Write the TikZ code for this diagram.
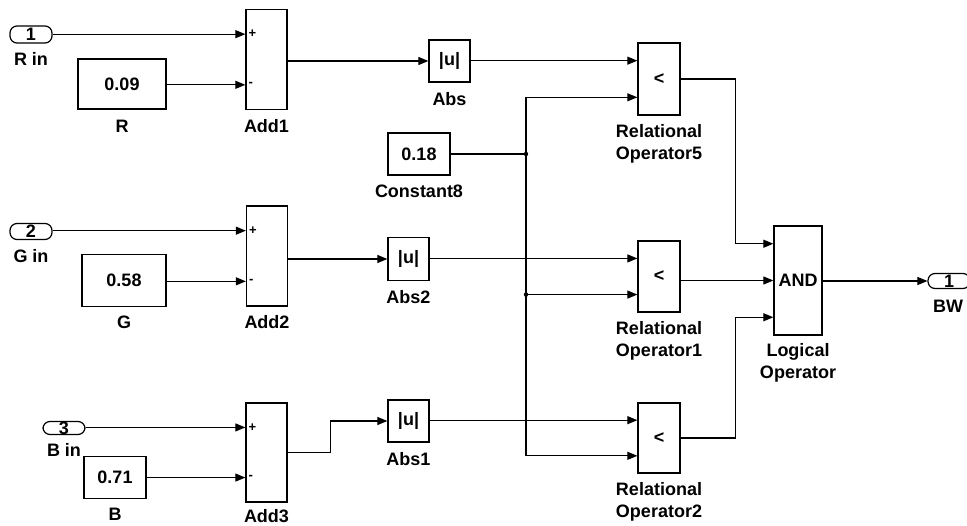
\documentclass[tikz,border=0pt]{standalone}
\usepackage{fontspec}
\setmainfont{Liberation Sans}
\usetikzlibrary{arrows.meta,calc}
\begin{document}
\begin{tikzpicture}[x=1pt,y=-1pt,
  blk/.style={draw, line width=1.3pt, inner sep=0pt, font=\bfseries\fontsize{18}{20}\selectfont},
  inport/.style={draw, rounded corners=7pt, line width=1.2pt, inner sep=0pt, minimum width=42pt, font=\bfseries\fontsize{18}{20}\selectfont},
  lbl/.style={inner sep=0pt, anchor=north, align=center, font=\bfseries\fontsize{18}{22}\selectfont},
  sgn/.style={inner sep=0pt, anchor=west, font=\bfseries\fontsize{13}{14}\selectfont},
  sig/.style={line width=1.1pt, -{Triangle[length=10pt,width=8pt]}},
  wire/.style={line width=1.1pt}]
\clip (0,0) rectangle (967,526);
\useasboundingbox (0,0) rectangle (967,526);

% ---- R branch
\node[inport, minimum height=17pt] (in1) at (31,34.5) {1};
\node[lbl] (in1l) at ([yshift=-9pt]in1.south) {R in};
\node[blk, minimum width=88pt, minimum height=50pt] (cR) at (122,84) {0.09};
\node[lbl] (cRl) at ([yshift=-10pt]cR.south) {R};
\node[blk, minimum width=41pt, minimum height=100pt] (add1) at (266.5,59.5) {};
\node[lbl] (add1l) at ([yshift=-9pt]add1.south) {Add1};
\coordinate (a1p) at ($(add1.north west)!0.25!(add1.south west)$);
\coordinate (a1m) at ($(add1.north west)!0.75!(add1.south west)$);
\node[sgn] (a1ps) at ([xshift=3pt]a1p) {+};
\node[sgn] (a1ms) at ([xshift=3pt]a1m) {-};
\node[blk, minimum width=41pt, minimum height=42pt] (abs) at (449.5,61) {|u|};
\node[lbl] (absl) at ([yshift=-10pt]abs.south) {Abs};

% ---- G branch
\node[inport, minimum height=16pt] (in2) at (31,231.5) {2};
\node[lbl] (in2l) at ([yshift=-9pt]in2.south) {G in};
\node[blk, minimum width=84pt, minimum height=52pt] (cG) at (124,280.5) {0.58};
\node[lbl] (cGl) at ([yshift=-9pt]cG.south) {G};
\node[blk, minimum width=41pt, minimum height=100pt] (add2) at (267,256) {};
\node[lbl] (add2l) at ([yshift=-9pt]add2.south) {Add2};
\coordinate (a2p) at ($(add2.north west)!0.25!(add2.south west)$);
\coordinate (a2m) at ($(add2.north west)!0.75!(add2.south west)$);
\node[sgn] (a2ps) at ([xshift=3pt]a2p) {+};
\node[sgn] (a2ms) at ([xshift=3pt]a2m) {-};
\node[blk, minimum width=41pt, minimum height=43pt] (abs2) at (408.5,259) {|u|};
\node[lbl] (abs2l) at ([yshift=-9.5pt]abs2.south) {Abs2};

% ---- B branch
\node[inport, minimum height=13pt] (in3) at (64,428) {3};
\node[lbl] (in3l) at ([yshift=-8.5pt]in3.south) {B in};
\node[blk, minimum width=62pt, minimum height=42pt] (cB) at (115,477.25) {0.71};
\node[lbl] (cBl) at ([yshift=-9.5pt]cB.south) {B};
\node[blk, minimum width=41pt, minimum height=99pt] (add3) at (266.5,452.5) {};
\node[lbl] (add3l) at ([yshift=-6.5pt]add3.south) {Add3};
\coordinate (a3p) at ($(add3.north west)!0.25!(add3.south west)$);
\coordinate (a3m) at ($(add3.north west)!0.75!(add3.south west)$);
\node[sgn] (a3ps) at ([xshift=3pt]a3p) {+};
\node[sgn] (a3ms) at ([xshift=3pt]a3m) {-};
\node[blk, minimum width=41pt, minimum height=42pt] (abs1) at (408.5,421) {|u|};
\node[lbl] (abs1l) at ([yshift=-9.5pt]abs1.south) {Abs1};

% ---- constant and relational operators
\node[blk, minimum width=62pt, minimum height=42pt] (c8) at (419,154) {0.18};
\node[lbl] (c8l) at ([yshift=-9pt]c8.south) {Constant8};
\node[blk, minimum width=42pt, minimum height=72pt] (rel5) at (659,79) {<};
\node[lbl] (rel5l) at ([yshift=-9pt]rel5.south) {Relational\\Operator5};
\node[blk, minimum width=42pt, minimum height=71pt] (rel1) at (659,276.5) {<};
\node[lbl] (rel1l) at ([yshift=-9pt]rel1.south) {Relational\\Operator1};
\node[blk, minimum width=42pt, minimum height=70pt] (rel2) at (659,438) {<};
\node[lbl] (rel2l) at ([yshift=-9pt]rel2.south) {Relational\\Operator2};
\foreach \r in {rel5,rel1,rel2}{
  \coordinate (\r a) at ($(\r.north west)!0.25!(\r.south west)$);
  \coordinate (\r b) at ($(\r.north west)!0.75!(\r.south west)$);
}

% ---- logical operator and outport
\node[blk, minimum width=48pt, minimum height=109pt] (and) at (798,280.5) {AND};
\node[lbl] (andl) at ([yshift=-8pt]and.south) {Logical\\Operator};
\coordinate (an1) at ($(and.north west)!0.1667!(and.south west)$);
\coordinate (an2) at ($(and.north west)!0.5!(and.south west)$);
\coordinate (an3) at ($(and.north west)!0.8333!(and.south west)$);
\node[inport, minimum height=15pt] (out) at (949,281) {1};
\node[lbl] (outl) at ([xshift=-1pt,yshift=-10.5pt]out.south) {BW};

% ---- connectors
\draw[sig] (in1.east |- a1p) -- (a1p);
\draw[sig] (cR.east |- a1m) -- (a1m);
\draw[sig] (add1.east |- abs.west) -- (abs.west);
\draw[sig] (abs.east |- rel5a) -- (rel5a);

\draw[sig] (in2.east |- a2p) -- (a2p);
\draw[sig] (cG.east |- a2m) -- (a2m);
\draw[sig] (add2.east |- abs2.west) -- (abs2.west);
\draw[sig] (abs2.east |- rel1a) -- (rel1a);

\draw[sig] (in3.east |- a3p) -- (a3p);
\draw[sig] (cB.east |- a3m) -- (a3m);
\draw[sig] (add3.east) -- ++(43,0) |- (abs1.west);
\draw[sig] (abs1.east |- rel2a) -- (rel2a);

\coordinate (j1) at (526,154);
\coordinate (j2) at (j1 |- rel1b);
\draw[wire] (c8.east) -- (j1);
\draw[sig] (j1) |- (rel5b);
\draw[sig] (j1) |- (rel2b);
\draw[sig] (j2) -- (rel1b);
\fill (j1) circle (2.2pt);
\fill (j2) circle (2.2pt);

\draw[sig] (rel5.east) -- ++(55,0) |- (an1);
\draw[sig] (an2 -| rel1.east) -- (an2);
\draw[sig] (rel2.east) -- ++(55,0) |- (an3);
\draw[sig] (and.east |- out.west) -- (out.west);
\end{tikzpicture}
\end{document}
